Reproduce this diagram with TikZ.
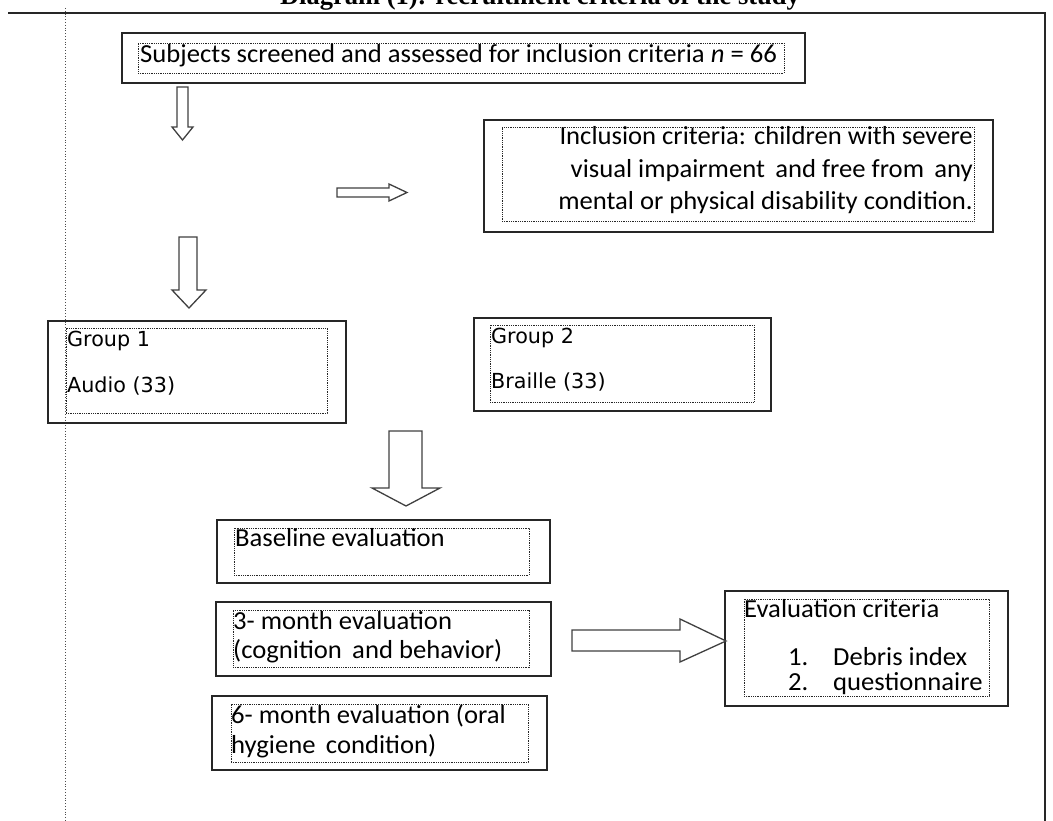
\documentclass[tikz,border=0pt]{standalone}
\usepackage{fontspec}
\setmainfont{Carlito}[FakeStretch=1.025]
\newfontfamily\titlefont{Liberation Serif}
\newfontfamily\groupfont{DejaVu Sans}
\usetikzlibrary{fit}
\begin{document}
\begin{tikzpicture}[x=1pt,y=-1pt,
  outerbox/.style={draw=black!85, line width=1.4pt, inner sep=0pt},
  innerbox/.style={draw=black!85, dash pattern=on 0.9pt off 0.9pt, line width=0.9pt, inner sep=0pt},
  txt/.style={anchor=base west, inner sep=0pt, font=\fontsize{26}{31}\selectfont},
  rtxt/.style={anchor=base east, inner sep=0pt, font=\fontsize{26}{31}\selectfont},
  gtxt/.style={anchor=base west, inner sep=0pt, font=\groupfont\fontsize{20.7}{25}\selectfont},
  blockarrow/.style={draw=black!75, line width=1.3pt, fill=white, line join=miter},
  frame/.style={draw=black!85, line width=1.8pt},
  guide/.style={draw=black!70, dotted, line width=0.8pt}
]
\useasboundingbox (0,0) rectangle (1053,821);
\clip (0,0) rectangle (1053,821);

% title (cut at the top, as in the reference)
\node[anchor=base, inner sep=0pt, font=\titlefont\bfseries\fontsize{26.5}{30}\selectfont] (title) at (540,5) {Diagram (1): recruitment criteria of the study};

% frame lines
\coordinate (fl) at (8,13);
\coordinate (fr) at (1045,13);
\coordinate (fb) at (1045,825);
\draw[frame] (fl) -- (fr) -- (fb);
\coordinate (gt) at (65,8);
\coordinate (gb) at (65,825);
\draw[guide] (gt) -- (gb);

% box 1
\node[outerbox, fit={(122,33) (805,83)}] (screen) {};
\node[innerbox, fit={(138,43) (784,73)}] (screenin) {};
\node[txt] (screentxt) at (140,63) {Subjects screened and assessed for inclusion criteria \textit{n} = 66};

% inclusion box
\node[outerbox, fit={(484,120) (993,232)}] (incl) {};
\node[innerbox, fit={(502,127) (974,221)}] (inclin) {};
\node[rtxt] (incl1) at (973,145) {Inclusion criteria: children with severe};
\node[rtxt] (incl2) at (973,178) {visual impairment\, and free from\, any};
\node[rtxt] (incl3) at (973,210) {mental or physical disability condition.};

% group 1
\node[outerbox, fit={(48,321) (346,423)}] (g1) {};
\node[innerbox, fit={(66,328) (327,413)}] (g1in) {};
\node[gtxt] (g1a) at (67,346) {Group 1};
\node[gtxt] (g1b) at (67,392) {Audio (33)};

% group 2
\node[outerbox, fit={(474,318) (771,411)}] (g2) {};
\node[innerbox, fit={(490,325) (754,402)}] (g2in) {};
\node[gtxt] (g2a) at (491,343) {Group 2};
\node[gtxt] (g2b) at (491,388) {Braille (33)};

% baseline
\node[outerbox, fit={(217,520) (550,583)}] (base) {};
\node[innerbox, fit={(234,528) (529,575)}] (basein) {};
\node[txt] (basetxt) at (235,546) {Baseline evaluation};

% 3-month
\node[outerbox, fit={(216,602) (551,676)}] (m3) {};
\node[innerbox, fit={(233,610) (529,667)}] (m3in) {};
\node[txt] (m3a) at (233,629) {3- month evaluation};
\node[txt] (m3b) at (233,658) {(cognition\, and behavior)};

% 6-month
\node[outerbox, fit={(212,696) (547,770)}] (m6) {};
\node[innerbox, fit={(231,704) (528,762)}] (m6in) {};
\node[txt] (m6a) at (231,723) {6- month evaluation (oral};
\node[txt] (m6b) at (231,753) {hygiene\, condition)};

% evaluation criteria
\node[outerbox, fit={(725,591) (1008,706)}] (ev) {};
\node[innerbox, fit={(744,599) (989,696)}] (evin) {};
\node[txt] (eva) at (744,617) {Evaluation criteria};
\node[txt] (ev1n) at (788,665) {1.};
\node[txt] (ev1) at (833,665) {Debris index};
\node[txt] (ev2n) at (788,690) {2.};
\node[txt] (ev2) at (833,690) {questionnaire};

% block arrows
\draw[blockarrow] (177,87) -- (188,87) -- (188,127) -- (193,127) -- (182.5,140) -- (172,127) -- (177,127) -- cycle;
\draw[blockarrow] (337,188) -- (389,188) -- (389,184) -- (407,192.5) -- (389,201) -- (389,197) -- (337,197) -- cycle;
\draw[blockarrow] (179,237) -- (197,237) -- (197,290) -- (206,290) -- (189,308) -- (172,290) -- (179,290) -- cycle;
\draw[blockarrow] (389,431) -- (422,431) -- (422,488) -- (440,488) -- (406,506) -- (372,488) -- (389,488) -- cycle;
\draw[blockarrow] (572,630) -- (680,630) -- (680,619) -- (726,641) -- (680,662) -- (680,651) -- (572,651) -- cycle;
\end{tikzpicture}
\end{document}
